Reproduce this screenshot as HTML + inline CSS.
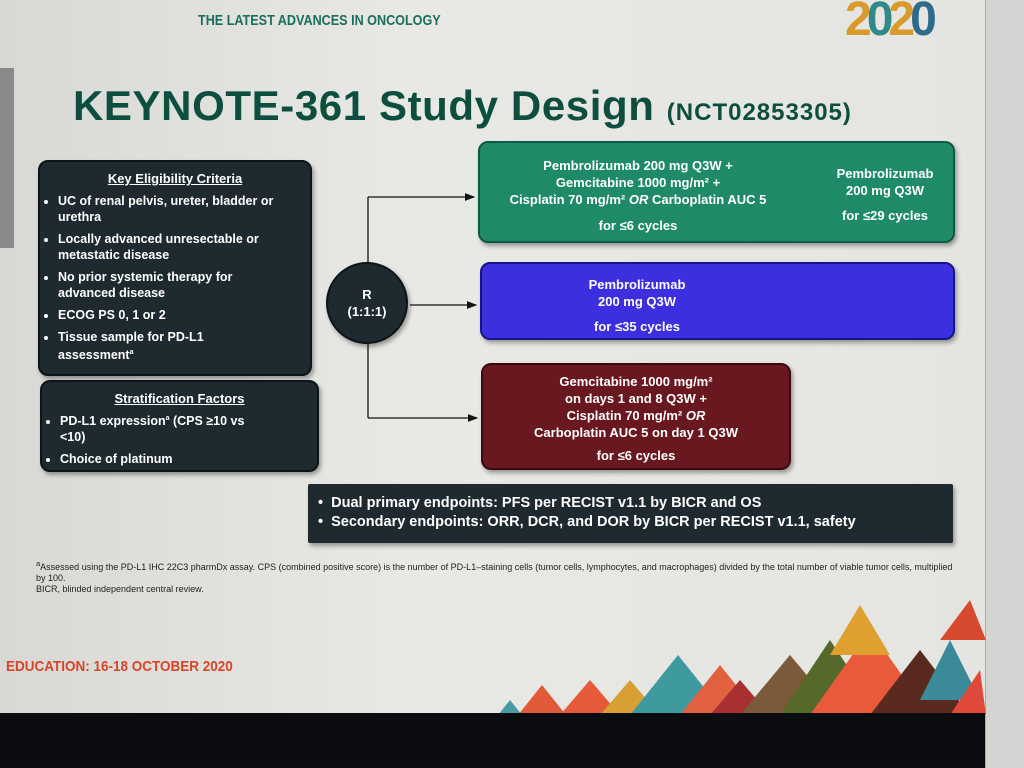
<!DOCTYPE html>
<html><head><meta charset="utf-8"><style>
body{margin:0;width:1024px;height:768px;overflow:hidden;background:#e2e2df;font-family:"Liberation Sans",sans-serif;position:relative}
.a{position:absolute}
.box{position:absolute;border-radius:10px;color:#fff;font-weight:bold;font-size:13px;box-shadow:2px 3px 4px rgba(0,0,0,.35)}
.c{text-align:center;line-height:17px}
ul{margin:0;padding-left:18px}
li{margin-bottom:6px;line-height:16px}
</style></head><body>
<div class="a" style="left:0;top:0;width:1024px;height:768px;background:linear-gradient(90deg,#d8d8d4,#e8e8e4 40%,#e4e4e0)"></div>
<div class="a" style="left:0;top:68px;width:14px;height:180px;background:#8a8a8a"></div>
<div class="a" style="left:985px;top:0;width:39px;height:768px;background:#d4d4d2;border-left:1px solid #aaa"></div>
<div class="a" style="left:198px;top:12px;font-size:15px;font-weight:bold;color:#1a6e5e;transform:scaleX(.84);transform-origin:left">THE LATEST ADVANCES IN ONCOLOGY</div>
<div class="a" style="left:845px;top:-2px;font-size:48px;font-weight:bold;color:#d89a2a;letter-spacing:-5px;line-height:44px">2<span style="color:#2f8a8a">0</span>2<span style="color:#2f6a8a">0</span></div>
<div class="a" style="left:73px;top:82px;font-size:42px;letter-spacing:0.6px;font-weight:bold;color:#0d4e3e;white-space:nowrap">KEYNOTE-361 Study Design <span style="font-size:24px;letter-spacing:1px">(NCT02853305)</span></div>

<svg class="a" style="left:0;top:0" width="1024" height="768">
<defs><marker id="m" markerWidth="8" markerHeight="8" refX="7" refY="4" orient="auto"><path d="M0,1 L8,4 L0,7z" fill="#111"/></marker></defs>
<g stroke="#111" stroke-width="1.3" fill="none">
<path d="M368 197 V418"/>
<path d="M368 197 H474" marker-end="url(#m)"/>
<path d="M410 305 H476" marker-end="url(#m)"/>
<path d="M368 418 H477" marker-end="url(#m)"/>
<path d="M790 196 H822" marker-end="url(#m)"/>
</g>
</svg>

<div class="box" style="left:38px;top:160px;width:270px;height:212px;background:#1e2a30;border:2px solid #0c1418">
<div class="c" style="margin-top:8px;text-decoration:underline">Key Eligibility Criteria</div>
<ul style="margin-top:6px;font-size:12.5px;padding-right:28px">
<li>UC of renal pelvis, ureter, bladder or urethra</li>
<li>Locally advanced unresectable or metastatic disease</li>
<li>No prior systemic therapy for advanced disease</li>
<li>ECOG PS 0, 1 or 2</li>
<li>Tissue sample for PD-L1 assessment<sup style="font-size:7px">a</sup></li></ul></div>

<div class="box" style="left:40px;top:380px;width:275px;height:88px;background:#1e2a30;border:2px solid #0c1418">
<div class="c" style="margin-top:8px;text-decoration:underline">Stratification Factors</div>
<ul style="margin-top:4px;font-size:12.5px;padding-right:50px"><li>PD-L1 expression<sup style="font-size:7px">a</sup> (CPS ≥10 vs &lt;10)</li><li>Choice of platinum</li></ul></div>

<div class="box" style="left:326px;top:262px;width:82px;height:82px;border-radius:50%;background:#1e2a30;border:2px solid #0c1418;box-sizing:border-box">
<div class="c" style="margin-top:22px">R<br>(1:1:1)</div></div>

<div class="box" style="left:478px;top:141px;width:477px;height:102px;background:#1f8a68;border:2px solid #0d5a44;box-sizing:border-box">
<div class="a c" style="left:8px;top:14px;width:300px">Pembrolizumab 200 mg Q3W +<br>Gemcitabine 1000 mg/m² +<br>Cisplatin 70 mg/m² <i>OR</i> Carboplatin AUC 5</div>
<div class="a c" style="left:8px;top:74px;width:300px">for ≤6 cycles</div>
<div class="a c" style="left:340px;top:22px;width:130px">Pembrolizumab<br>200 mg Q3W</div>
<div class="a c" style="left:340px;top:64px;width:130px">for ≤29 cycles</div></div>

<div class="box" style="left:480px;top:262px;width:475px;height:78px;background:#3b2fe0;border:2px solid #1a148a;box-sizing:border-box">
<div class="a c" style="left:0;top:12px;width:310px">Pembrolizumab<br>200 mg Q3W</div>
<div class="a c" style="left:0;top:54px;width:310px">for ≤35 cycles</div></div>

<div class="box" style="left:481px;top:363px;width:310px;height:107px;background:#6a1820;border:2px solid #3a0a10;box-sizing:border-box">
<div class="a c" style="left:0;top:8px;width:306px">Gemcitabine 1000 mg/m²<br>on days 1 and 8 Q3W +<br>Cisplatin 70 mg/m² <i>OR</i><br>Carboplatin AUC 5 on day 1 Q3W</div>
<div class="a c" style="left:0;top:82px;width:306px">for ≤6 cycles</div></div>

<div class="box" style="left:308px;top:484px;width:645px;height:59px;background:#1e2a30;border-radius:2px;font-size:14.5px">
<div style="margin:10px 0 0 10px;line-height:19px">•&nbsp; Dual primary endpoints: PFS per RECIST v1.1 by BICR and OS<br>•&nbsp; Secondary endpoints: ORR, DCR, and DOR by BICR per RECIST v1.1, safety</div></div>

<div class="a" style="left:36px;top:558px;width:920px;font-size:9px;line-height:11px;color:#222"><sup>a</sup>Assessed using the PD-L1 IHC 22C3 pharmDx assay. CPS (combined positive score) is the number of PD-L1–staining cells (tumor cells, lymphocytes, and macrophages) divided by the total number of viable tumor cells, multiplied by 100.<br>BICR, blinded independent central review.</div>

<div class="a" style="left:6px;top:658px;font-size:15px;font-weight:bold;color:#d8452a;transform:scaleX(.9);transform-origin:left">EDUCATION: 16-18 OCTOBER 2020</div>

<svg class="a" style="left:480px;top:600px" width="506" height="115">
<polygon points="18,115 30,100 42,115" fill="#4a9aa6"/>
<polygon points="38,115 62,85 86,115" fill="#e05a38"/>
<polygon points="80,115 110,80 140,115" fill="#e65a3a"/>
<polygon points="120,115 150,80 180,115" fill="#d8a034"/>
<polygon points="150,115 198,55 246,115" fill="#3f9aa0"/>
<polygon points="200,115 240,65 280,115" fill="#e06040"/>
<polygon points="230,115 260,80 290,115" fill="#a83030"/>
<polygon points="260,115 310,55 360,115" fill="#7a5a3a"/>
<polygon points="300,115 350,40 400,115" fill="#556a2a"/>
<polygon points="330,115 390,30 450,115" fill="#e85a3a"/>
<polygon points="390,115 440,50 490,115" fill="#5a2a20"/>
<polygon points="350,55 380,5 410,55" fill="#e0a030"/>
<polygon points="440,100 470,40 500,100" fill="#3a8a9a"/>
<polygon points="460,40 490,0 506,40" fill="#d84a30"/>
<polygon points="470,115 500,70 506,115" fill="#e04a3a"/>
</svg>
<div class="a" style="left:0;top:713px;width:985px;height:55px;background:#0a0c10"></div>
</body></html>
